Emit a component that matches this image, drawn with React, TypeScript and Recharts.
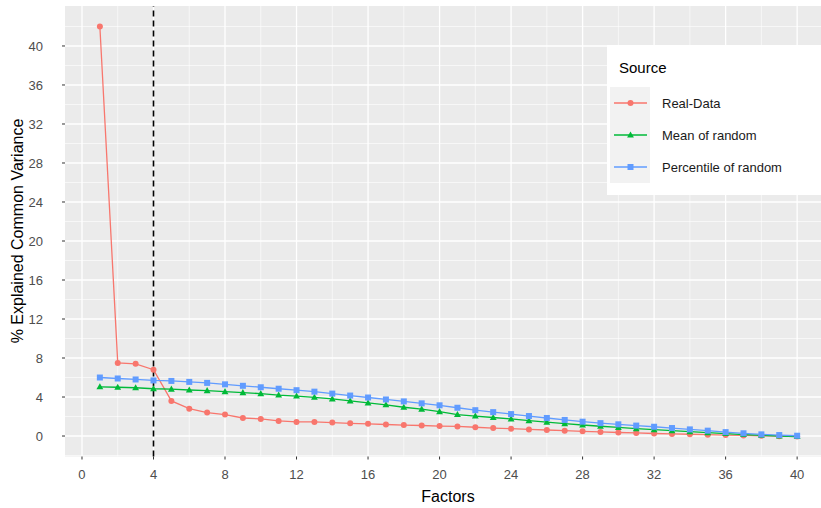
import React from 'react';
import { LineChart, Line, XAxis, YAxis, CartesianGrid, ReferenceLine, Legend } from 'recharts';

const factors = [1, 2, 3, 4, 5, 6, 7, 8, 9, 10, 11, 12, 13, 14, 15, 16, 17, 18, 19, 20, 21, 22, 23, 24, 25, 26, 27, 28, 29, 30, 31, 32, 33, 34, 35, 36, 37, 38, 39, 40];
const realData = [42.0, 7.5, 7.4, 6.8, 3.6, 2.8, 2.4, 2.2, 1.85, 1.75, 1.55, 1.45, 1.45, 1.38, 1.3, 1.25, 1.18, 1.12, 1.08, 1.02, 0.98, 0.9, 0.82, 0.75, 0.68, 0.62, 0.55, 0.48, 0.42, 0.36, 0.32, 0.26, 0.22, 0.18, 0.14, 0.1, 0.06, 0.02, -0.02, -0.06];
const meanRandom = [5.05, 5.0, 4.95, 4.85, 4.8, 4.72, 4.65, 4.55, 4.45, 4.35, 4.2, 4.1, 3.97, 3.8, 3.6, 3.4, 3.2, 2.95, 2.75, 2.5, 2.2, 2.05, 1.9, 1.75, 1.58, 1.42, 1.27, 1.13, 1.0, 0.88, 0.76, 0.65, 0.55, 0.45, 0.35, 0.25, 0.15, 0.08, 0.0, -0.05];
const percentileRandom = [6.0, 5.9, 5.8, 5.7, 5.65, 5.55, 5.45, 5.3, 5.15, 5.0, 4.85, 4.7, 4.55, 4.35, 4.15, 3.95, 3.75, 3.55, 3.35, 3.15, 2.9, 2.65, 2.45, 2.25, 2.05, 1.85, 1.65, 1.47, 1.32, 1.2, 1.07, 0.95, 0.82, 0.68, 0.55, 0.4, 0.28, 0.17, 0.1, 0.03];
const seriesNames = ['Real-Data', 'Mean of random', 'Percentile of random'];
const seriesColors = ['#F8766D', '#00BA38', '#619CFF'];
const xTicks = [0, 4, 8, 12, 16, 20, 24, 28, 32, 36, 40];
const yTicks = [0, 4, 8, 12, 16, 20, 24, 28, 32, 36, 40];
const xMinor = [2, 6, 10, 14, 18, 22, 26, 30, 34, 38];
const yMinor = [-2, 2, 6, 10, 14, 18, 22, 26, 30, 34, 38, 42];
const cutoff = 4;

const data = factors.map((f, i) => ({
  factor: f,
  real: realData[i],
  mean: meanRandom[i],
  pct: percentileRandom[i],
}));

const FONT = '"Liberation Sans", Arial, sans-serif';

function Marker({ shape, cx, cy, color }: { shape: string; cx: number; cy: number; color: string }) {
  if (shape === 'triangle') {
    const r = 3.6;
    return <path d={`M${cx},${cy - r} L${cx + r * 0.95},${cy + r * 0.7} L${cx - r * 0.95},${cy + r * 0.7} Z`} fill={color} />;
  }
  if (shape === 'square') {
    return <rect x={cx - 3} y={cy - 3} width={6} height={6} fill={color} />;
  }
  return <circle cx={cx} cy={cy} r={3} fill={color} />;
}

const makeDot = (shape: string, color: string, name: string) => (props: any) => {
  const { cx, cy, index } = props;
  if (cx == null || cy == null) return <g key={`${name}-${index}`} />;
  return (
    <g key={`${name}-${index}`}>
      <Marker shape={shape} cx={cx} cy={cy} color={color} />
    </g>
  );
};

const shapes = ['circle', 'triangle', 'square'];

function LegendBox() {
  return (
    <svg width={230} height={150} style={{ display: 'block' }}>
      <rect x={0} y={0} width={230} height={150} fill="#FFFFFF" />
      <text x={12} y={28} fontSize={15} fill="#000000" fontFamily={FONT}>Source</text>
      {seriesNames.map((n, i) => {
        const cy = 58 + i * 32;
        return (
          <g key={n}>
            <rect x={3} y={cy - 16} width={40} height={32} fill="#F2F2F2" />
            <line x1={7} x2={40} y1={cy} y2={cy} stroke={seriesColors[i]} strokeWidth={1.3} />
            <Marker shape={shapes[i]} cx={23.5} cy={cy} color={seriesColors[i]} />
            <text x={55} y={cy + 4.5} fontSize={13} fill="#1A1A1A" fontFamily={FONT}>{n}</text>
          </g>
        );
      })}
    </svg>
  );
}

export default function App() {
  return (
    <div style={{ position: 'absolute', left: 0, top: 0, width: 821, height: 508, overflow: 'hidden', background: '#FFFFFF' }}>
      <LineChart width={840} height={508} data={data} margin={{ top: 6, right: 8, left: 0, bottom: 0 }}>
        <CartesianGrid
          fill="#EBEBEB"
          stroke="#FFFFFF"
          strokeWidth={0.6}
          horizontalValues={yMinor}
          verticalValues={xMinor}
        />
        <CartesianGrid
          fill="none"
          stroke="#FFFFFF"
          strokeWidth={1.3}
          horizontalValues={yTicks}
          verticalValues={xTicks}
        />
        <XAxis
          dataKey="factor"
          type="number"
          domain={[-0.95, 41.95]}
          ticks={xTicks}
          allowDataOverflow
          height={51.5}
          axisLine={false}
          tickSize={3}
          tickLine={{ stroke: '#333333', strokeWidth: 1 }}
          tick={{ fill: '#4D4D4D', fontSize: 13, fontFamily: FONT }}
          tickMargin={10}
          label={{
            content: () => (
              <text x={448} y={502} textAnchor="middle" fontSize={16} fill="#000000" fontFamily={FONT}>Factors</text>
            ),
          }}
        />
        <YAxis
          type="number"
          domain={[-2.1, 44.1]}
          ticks={yTicks}
          allowDataOverflow
          width={65}
          axisLine={false}
          tickSize={3}
          tickLine={{ stroke: '#333333', strokeWidth: 1 }}
          tick={{ fill: '#4D4D4D', fontSize: 13, fontFamily: FONT }}
          tickMargin={19}
          label={{
            content: () => (
              <text x={23} y={231} transform="rotate(-90 23 231)" textAnchor="middle" fontSize={16} fill="#000000" fontFamily={FONT}>% Explained Common Variance</text>
            ),
          }}
        />
        <Line dataKey="real" name={seriesNames[0]} stroke={seriesColors[0]} strokeWidth={1.3} isAnimationActive={false} dot={makeDot('circle', seriesColors[0], 'real')} activeDot={false} />
        <Line dataKey="mean" name={seriesNames[1]} stroke={seriesColors[1]} strokeWidth={1.3} isAnimationActive={false} dot={makeDot('triangle', seriesColors[1], 'mean')} activeDot={false} />
        <Line dataKey="pct" name={seriesNames[2]} stroke={seriesColors[2]} strokeWidth={1.3} isAnimationActive={false} dot={makeDot('square', seriesColors[2], 'pct')} activeDot={false} />
        <ReferenceLine x={cutoff} stroke="#000000" strokeWidth={1.6} strokeDasharray="6 4" />
        <Legend
          layout="vertical"
          align="center"
          verticalAlign="middle"
          content={() => <LegendBox />}
          wrapperStyle={{ position: 'absolute', left: 607, top: 45, width: 230, height: 150 }}
        />
      </LineChart>
    </div>
  );
}
